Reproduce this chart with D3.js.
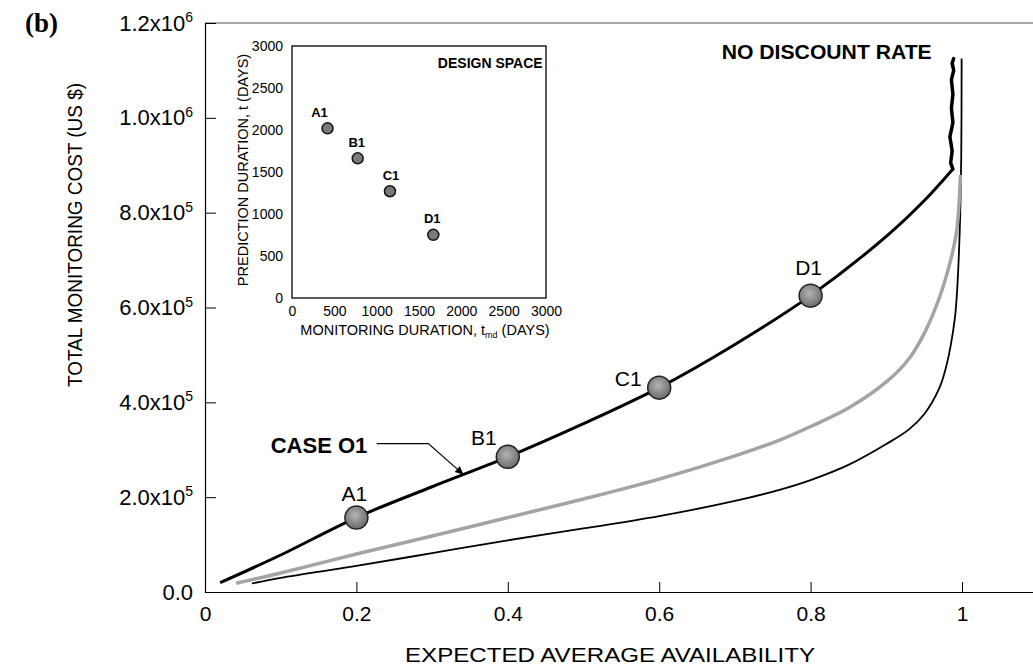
<!DOCTYPE html>
<html><head><meta charset="utf-8">
<script src="https://cdn.jsdelivr.net/npm/d3@7"></script>
<style>
body{margin:0;background:#fff;}
</style></head>
<body><svg id="c" width="1033" height="666" font-family="Arial, 'Liberation Sans', sans-serif"></svg>
<script>
// ---------- DATA ----------
const caseO1X = [0.02,0.1,0.2,0.3,0.4,0.5,0.6,0.7,0.8,0.9,0.95,0.988];
const caseO1Y = [19600,78000,157000,222000,285000,355000,431000,522000,625000,750000,825000,892000];
const caseO1TailX = [0.988,0.985,0.987,0.984,0.988,0.986,0.988,0.986,0.989,0.987,0.989];
const caseO1TailY = [892000,905000,930000,960000,990000,1020000,1050000,1080000,1100000,1115000,1125000];
const greyX = [0.041,0.1,0.2,0.3,0.4,0.5,0.6,0.7,0.76,0.8,0.85,0.9,0.93,0.95,0.97,0.985,0.993,0.998];
const greyY = [18300,40000,80000,118000,157000,196000,238000,287000,321000,349000,388000,443000,492000,545000,620000,700000,762000,880000];
const thinX = [0.062,0.1,0.2,0.3,0.4,0.5,0.6,0.7,0.76,0.8,0.85,0.9,0.93,0.95,0.97,0.98,0.99,0.993,0.997,0.999,0.9995];
const thinY = [18000,30000,55000,82000,109000,134000,160000,192000,216000,236000,268000,312000,343000,375000,430000,481000,570000,622000,762000,920000,1125000];
const designNames = ["A1","B1","C1","D1"];
const designAvail = [0.2,0.4,0.6,0.8];
const designCost = [157000,285000,431000,625000];
const monitoringDays = [420,776,1157,1669];
const predictionDays = [2020,1663,1271,752];
const xTicks = [0,0.2,0.4,0.6,0.8,1];
const yTicks = [0,200000,400000,600000,800000,1000000,1200000];
const yTickMant = ["0.0","2.0","4.0","6.0","8.0","1.0","1.2"];
const yTickExp = ["","5","5","5","5","6","6"];
const insetTicks = [0,500,1000,1500,2000,2500,3000];

// ---------- LAYOUT ----------
const svg = d3.select("#c");
const FONT = "Arial, 'Liberation Sans', sans-serif";
const x = d3.scaleLinear().domain([0,1.1]).range([205,205+757*1.1]);
const y = d3.scaleLinear().domain([0,1200000]).range([592,23]);
const ix = d3.scaleLinear().domain([0,3000]).range([292,546]);
const iy = d3.scaleLinear().domain([0,3000]).range([298,46]);
const mainLabelOff = {A1:[-2,-17],B1:[-24,-12],C1:[-31,-2],D1:[-2,-21]};
const insetLabelOff = {A1:[-8,-11.5],B1:[-1,-11.5],C1:[1,-11.5],D1:[-1,-12]};

const defs = svg.append("defs");
const rg = defs.append("radialGradient").attr("id","ball").attr("cx","45%").attr("cy","40%").attr("r","60%");
rg.append("stop").attr("offset","0%").attr("stop-color","#b4b4b4");
rg.append("stop").attr("offset","100%").attr("stop-color","#6a6a6a");
const mk = defs.append("marker").attr("id","arr").attr("viewBox","0 0 10 10").attr("refX",10).attr("refY",5)
  .attr("markerWidth",10).attr("markerHeight",8).attr("markerUnits","userSpaceOnUse").attr("orient","auto");
mk.append("path").attr("d","M0,0L10,5L0,10Z").attr("fill","#000");

// top frame line
svg.append("line").attr("x1",x(0)).attr("x2",1033).attr("y1",y(1200000)).attr("y2",y(1200000))
  .attr("stroke","#555").attr("stroke-width",1);

// axes
const xAxis = d3.axisBottom(x).tickValues(xTicks).tickSizeInner(-10).tickSizeOuter(0).tickPadding(14)
  .tickFormat(d=>d===0?"0":d===1?"1":d3.format(".1f")(d));
const gx = svg.append("g").attr("transform",`translate(0,${y(0)})`).call(xAxis);
gx.select(".domain").attr("stroke","#000").attr("stroke-width",1.2);
gx.selectAll(".tick line").attr("stroke","#000");
gx.selectAll(".tick text").attr("font-size",21).attr("fill","#000").attr("font-family",FONT);

const yAxis = d3.axisLeft(y).tickValues(yTicks).tickSizeInner(-11).tickSizeOuter(0).tickPadding(12);
const gy = svg.append("g").attr("transform",`translate(${x(0)},0)`).call(yAxis);
gy.select(".domain").attr("stroke","#000").attr("stroke-width",1.2);
gy.selectAll(".tick line").attr("stroke","#000");
gy.selectAll(".tick text").attr("font-size",22).attr("fill","#000").attr("font-family",FONT)
  .each(function(d,i){
    const t = d3.select(this); t.text(null);
    const e = yTickExp[i];
    if(!e){ t.append("tspan").text(yTickMant[i]); return; }
    t.append("tspan").text(yTickMant[i]+"x10");
    t.append("tspan").text(e).attr("font-size",14).attr("dy","-0.6em");
  });

// axis titles
svg.append("text").attr("x",610).attr("y",662).attr("text-anchor","middle").attr("font-size",21)
  .attr("textLength",410).attr("lengthAdjust","spacingAndGlyphs").text("EXPECTED AVERAGE AVAILABILITY");
svg.append("text").attr("transform","translate(82,235) rotate(-90)").attr("text-anchor","middle").attr("font-size",21)
  .attr("textLength",304).attr("lengthAdjust","spacingAndGlyphs").text("TOTAL MONITORING COST (US $)");
svg.append("text").attr("x",25).attr("y",32).attr("font-family","'Liberation Serif','Times New Roman',serif")
  .attr("font-weight","bold").attr("font-size",27).text("(b)");

// curves
const smooth = d3.line().x(d=>x(d[0])).y(d=>y(d[1])).curve(d3.curveCatmullRom.alpha(0.5));
svg.append("path").datum(d3.zip(thinX,thinY)).attr("d",smooth).attr("fill","none").attr("stroke","#000").attr("stroke-width",1.8);
svg.append("path").datum(d3.zip(greyX,greyY)).attr("d",smooth).attr("fill","none").attr("stroke","#a4a4a4").attr("stroke-width",3.5);
svg.append("path").datum(d3.zip(caseO1X,caseO1Y)).attr("d",smooth).attr("fill","none").attr("stroke","#000").attr("stroke-width",3);
svg.append("path").datum(d3.zip(caseO1TailX,caseO1TailY)).attr("d",d3.line().x(d=>x(d[0])).y(d=>y(d[1]))).attr("fill","none")
  .attr("stroke","#000").attr("stroke-width",3.5).attr("stroke-linejoin","round").attr("stroke-linecap","round");

// design points on main chart
const pts = designNames.map((n,i)=>({n, a:designAvail[i], c:designCost[i], m:monitoringDays[i], p:predictionDays[i]}));
svg.selectAll("circle.main").data(pts).join("circle").attr("class","main")
  .attr("cx",d=>x(d.a)).attr("cy",d=>y(d.c)).attr("r",11.5).attr("fill","url(#ball)").attr("stroke","#222").attr("stroke-width",1.5);
svg.selectAll("text.mainlab").data(pts).join("text").attr("class","mainlab")
  .attr("x",d=>x(d.a)+mainLabelOff[d.n][0]).attr("y",d=>y(d.c)+mainLabelOff[d.n][1])
  .attr("text-anchor","middle").attr("font-size",21).text(d=>d.n);

// annotations
svg.append("text").attr("x",x(0.0868)).attr("y",y(293000)).attr("font-size",22).attr("font-weight","bold").text("CASE O1");
svg.append("path").attr("d",d3.line()([[x(0.2268),y(313000)],[x(0.295),y(313000)],[x(0.3412),y(248000)]]))
  .attr("fill","none").attr("stroke","#000").attr("stroke-width",1.2).attr("marker-end","url(#arr)");
svg.append("text").attr("x",x(0.96)).attr("y",y(1124000)).attr("text-anchor","end").attr("font-size",20).attr("font-weight","bold")
  .attr("textLength",210).attr("lengthAdjust","spacingAndGlyphs").text("NO DISCOUNT RATE");

// ---------- INSET ----------
const ins = svg.append("g");
ins.append("rect").attr("x",ix(0)).attr("y",iy(3000)).attr("width",ix(3000)-ix(0)).attr("height",iy(0)-iy(3000))
  .attr("fill","#fff").attr("stroke","#000").attr("stroke-width",1.3);
const ixa = ins.append("g").attr("transform",`translate(0,${iy(0)})`)
  .call(d3.axisBottom(ix).tickValues(insetTicks).tickSize(0).tickPadding(8).tickFormat(d3.format("d")));
const iya = ins.append("g").attr("transform",`translate(${ix(0)},0)`)
  .call(d3.axisLeft(iy).tickValues(insetTicks).tickSize(0).tickPadding(9).tickFormat(d3.format("d")));
[ixa,iya].forEach(g=>{ g.select(".domain").remove();
  g.selectAll(".tick text").attr("font-size",14).attr("fill","#000").attr("font-family",FONT); });
const xt = ins.append("text").attr("x",425).attr("y",335).attr("text-anchor","middle").attr("font-size",14.5);
xt.append("tspan").text("MONITORING DURATION, t");
xt.append("tspan").text("md").attr("font-size",9).attr("dy",3);
xt.append("tspan").text(" (DAYS)").attr("dy",-3);
ins.append("text").attr("transform","translate(248,170) rotate(-90)").attr("text-anchor","middle").attr("font-size",14.5)
  .text("PREDICTION DURATION, t (DAYS)");
ins.append("text").attr("x",ix(2960)).attr("y",iy(2735)).attr("text-anchor","end").attr("font-size",14).attr("font-weight","bold")
  .text("DESIGN SPACE");
ins.selectAll("circle.ins").data(pts).join("circle").attr("class","ins")
  .attr("cx",d=>ix(d.m)).attr("cy",d=>iy(d.p)).attr("r",5.5).attr("fill","#7a7a7a").attr("stroke","#111").attr("stroke-width",1.5);
ins.selectAll("text.inslab").data(pts).join("text").attr("class","inslab")
  .attr("x",d=>ix(d.m)+insetLabelOff[d.n][0]).attr("y",d=>iy(d.p)+insetLabelOff[d.n][1])
  .attr("text-anchor","middle").attr("font-size",13).attr("font-weight","bold").text(d=>d.n);
</script></body></html>
